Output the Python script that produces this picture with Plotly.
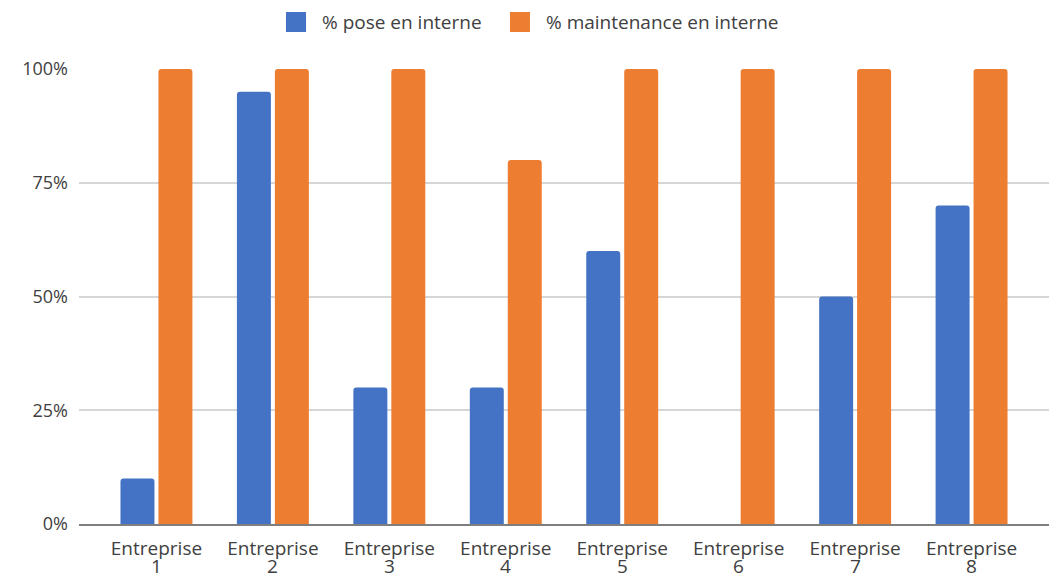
import plotly.graph_objects as go

# Share of installation and maintenance handled in-house, per company
entreprises = ["Entreprise 1", "Entreprise 2", "Entreprise 3", "Entreprise 4",
               "Entreprise 5", "Entreprise 6", "Entreprise 7", "Entreprise 8"]
pose_interne = [0.10, 0.95, 0.30, 0.30, 0.60, 0.00, 0.50, 0.70]
maintenance_interne = [1.00, 1.00, 1.00, 0.80, 1.00, 1.00, 1.00, 1.00]
y_ticks = [0, 0.25, 0.5, 0.75, 1.0]
y_tick_labels = ["0%", "25%", "50%", "75%", "100%"]

series = [
    ("% pose en interne", pose_interne, "#4472C4"),
    ("% maintenance en interne", maintenance_interne, "#ED7D31"),
]

positions = list(range(len(entreprises)))
text_color = "#404040"
font_family = "Open Sans, Noto Sans, sans-serif"

fig = go.Figure()
for name, values, color in series:
    fig.add_trace(go.Bar(
        x=positions, y=values, name=name,
        marker=dict(color=color, line=dict(width=0)),
        showlegend=False,
        hovertemplate="%{y:.0%}<extra>" + name + "</extra>",
    ))

# Category labels wrap onto two tight lines: word on the axis, number below
first_words = [label.rsplit(" ", 1)[0] for label in entreprises]
numbers = [label.rsplit(" ", 1)[1] for label in entreprises]
for pos, num in zip(positions, numbers):
    fig.add_annotation(
        x=pos, y=0, xref="x", yref="paper", yshift=-28,
        text=num, showarrow=False, xanchor="center", yanchor="top",
        borderpad=0,
        font=dict(size=19, color=text_color, family=font_family),
    )

# Legend drawn as square swatches with labels above the plot
legend_items = [
    (series[0][0], series[0][2], 0.2237, 0.2485),
    (series[1][0], series[1][2], 0.4546, 0.4794),
]
legend_y = 1.1033
for label, color, sx, tx in legend_items:
    fig.add_shape(
        type="rect", xref="paper", yref="paper",
        xsizemode="pixel", ysizemode="pixel",
        xanchor=sx, yanchor=legend_y,
        x0=-10, x1=10, y0=-10, y1=10,
        fillcolor=color, line=dict(width=0),
    )
    fig.add_annotation(
        x=tx, y=legend_y, xref="paper", yref="paper",
        text=label, showarrow=False, xanchor="left", yanchor="middle",
        font=dict(size=19, color=text_color, family=font_family),
    )

fig.update_layout(
    width=1055, height=578,
    margin=dict(l=79, r=6, t=69, b=54),
    paper_bgcolor="white", plot_bgcolor="white",
    barmode="group", bargap=0.348, bargroupgap=0.105,
    barcornerradius=3,
    font=dict(family=font_family, size=18, color=text_color),
)
fig.update_xaxes(
    tickmode="array", tickvals=positions, ticktext=first_words,
    range=[-0.665, len(entreprises) - 1 + 0.665],
    showgrid=False, showline=True, linecolor="#7f7f7f", linewidth=2,
    ticks="", ticklabelstandoff=6, automargin=False,
    tickfont=dict(size=19, color=text_color),
    fixedrange=True,
)
fig.update_yaxes(
    tickmode="array", tickvals=y_ticks, ticktext=y_tick_labels,
    range=[0, 1.0],
    showgrid=True, gridcolor="#d6d6d6", gridwidth=1.5,
    zeroline=False, showline=False, ticks="", ticklabelstandoff=10,
    automargin=False,
    tickfont=dict(size=18, color=text_color),
    fixedrange=True,
)

fig.write_html("out.html")
